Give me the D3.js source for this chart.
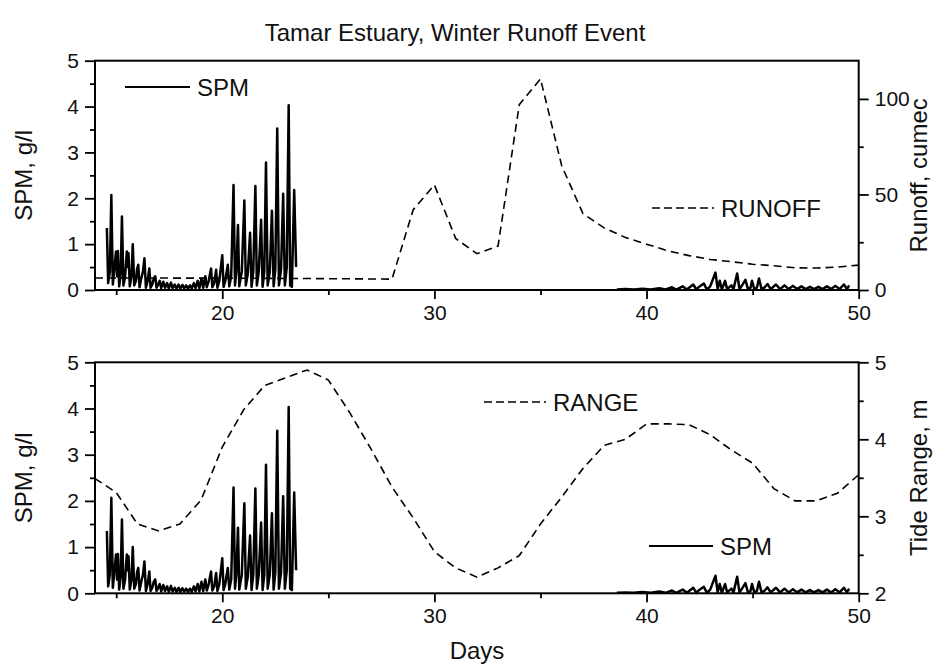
<!DOCTYPE html>
<html>
<head>
<meta charset="utf-8">
<script src="https://cdn.jsdelivr.net/npm/d3@7/dist/d3.min.js"></script>
<style>
  body { margin: 0; background: #fff; }
  svg { font-family: "Liberation Sans", Arial, sans-serif; }
</style>
</head>
<body>
<div id="chart"></div>
<script>
// ---- data ----
const runoffDays = [14, 20, 24, 28, 29, 30, 31, 32, 33, 34, 35, 36, 37, 38, 39, 40, 41, 42, 43, 44, 45, 46, 47, 48, 49, 50];
const runoff = [6.3, 6.2, 6, 5.7, 42, 55, 27, 19, 23, 97, 110.5, 65, 40, 32.5, 27.5, 24, 20.5, 18, 16, 14.8, 13.5, 12.7, 11.6, 11.5, 12, 13];

const rangeDays = [14, 15, 16, 17, 18, 19, 20, 21, 22, 23, 24, 25, 26, 27, 28, 29, 30, 31, 32, 33, 34, 35, 36, 37, 38, 39, 40, 41, 42, 43, 44, 45, 46, 47, 48, 49, 50];
const tideRange = [3.49, 3.31, 2.9, 2.81, 2.9, 3.21, 3.9, 4.38, 4.7, 4.8, 4.9, 4.77, 4.35, 3.88, 3.38, 2.98, 2.54, 2.33, 2.21, 2.33, 2.49, 2.9, 3.25, 3.62, 3.92, 4.0, 4.2, 4.2, 4.19, 4.06, 3.86, 3.69, 3.36, 3.2, 3.2, 3.3, 3.54];

// SPM, first deployment (day, g/l)
const spmEarly = [
  [14.56, 1.35], [14.62, 0.15], [14.70, 0.4], [14.77, 2.07], [14.84, 0.12], [14.92, 0.5], [14.99, 0.84],
  [15.04, 0.3], [15.08, 0.85], [15.14, 0.08], [15.21, 0.35], [15.27, 1.6], [15.34, 0.1], [15.42, 0.3],
  [15.50, 0.84], [15.54, 0.5], [15.58, 0.8], [15.64, 0.08], [15.72, 0.3], [15.78, 1.0], [15.85, 0.1],
  [15.93, 0.2], [15.98, 0.45], [16.04, 0.55], [16.10, 0.06], [16.18, 0.25], [16.26, 0.4], [16.33, 0.69],
  [16.40, 0.05], [16.48, 0.2], [16.56, 0.47], [16.62, 0.05], [16.70, 0.12], [16.77, 0.25], [16.84, 0.3],
  [16.90, 0.05], [16.98, 0.12], [17.05, 0.2], [17.12, 0.04], [17.22, 0.18], [17.30, 0.05], [17.40, 0.15],
  [17.48, 0.03], [17.58, 0.16], [17.66, 0.04], [17.76, 0.12], [17.84, 0.03], [17.94, 0.12], [18.02, 0.03],
  [18.12, 0.11], [18.20, 0.04], [18.30, 0.1], [18.38, 0.03], [18.48, 0.1], [18.56, 0.03], [18.66, 0.15],
  [18.74, 0.04], [18.84, 0.2], [18.92, 0.04], [19.02, 0.25], [19.10, 0.05], [19.20, 0.3], [19.27, 0.06],
  [19.36, 0.2], [19.47, 0.47], [19.53, 0.06], [19.62, 0.15], [19.71, 0.44], [19.77, 0.05], [19.86, 0.2],
  [20.00, 0.76], [20.06, 0.07], [20.14, 0.2], [20.26, 0.55], [20.33, 0.08], [20.42, 0.3], [20.53, 2.29],
  [20.60, 0.1], [20.66, 0.4], [20.74, 1.42], [20.80, 0.08], [20.92, 0.4], [21.04, 1.95], [21.11, 0.1],
  [21.20, 0.35], [21.31, 1.25], [21.38, 0.07], [21.46, 0.4], [21.56, 2.27], [21.63, 0.1], [21.72, 0.4],
  [21.83, 1.53], [21.90, 0.07], [21.98, 0.4], [22.06, 2.78], [22.14, 0.1], [22.24, 0.4], [22.34, 1.73],
  [22.42, 0.08], [22.50, 0.45], [22.59, 3.52], [22.67, 0.1], [22.77, 0.45], [22.87, 2.1], [22.95, 0.1],
  [23.04, 0.5], [23.13, 4.03], [23.20, 0.1], [23.28, 0.07], [23.39, 2.18], [23.48, 0.5]
];

// SPM, second deployment (day, g/l)
const spmLate = [
  [38.6, 0.01], [39.0, 0.02], [39.4, 0.01], [39.8, 0.03], [40.2, 0.01], [40.6, 0.04], [40.9, 0.01],
  [41.2, 0.06], [41.4, 0.01], [41.7, 0.08], [41.9, 0.01], [42.2, 0.12], [42.35, 0.01], [42.45, 0.06],
  [42.7, 0.14], [42.85, 0.01], [43.0, 0.08], [43.25, 0.38], [43.35, 0.02], [43.45, 0.2], [43.55, 0.01],
  [43.7, 0.2], [43.8, 0.02], [44.0, 0.1], [44.1, 0.02], [44.27, 0.36], [44.38, 0.02], [44.5, 0.1],
  [44.66, 0.22], [44.78, 0.02], [44.9, 0.05], [44.97, 0.2], [45.08, 0.02], [45.2, 0.05], [45.3, 0.25],
  [45.42, 0.02], [45.55, 0.05], [45.7, 0.13], [45.85, 0.02], [46.1, 0.12], [46.3, 0.02], [46.5, 0.1],
  [46.7, 0.02], [46.9, 0.09], [47.1, 0.02], [47.3, 0.08], [47.5, 0.02], [47.7, 0.07], [47.9, 0.02],
  [48.1, 0.07], [48.3, 0.02], [48.5, 0.08], [48.7, 0.02], [48.9, 0.09], [49.1, 0.02], [49.3, 0.12],
  [49.45, 0.02], [49.55, 0.1]
];

const xMajor = [20, 30, 40, 50];
const xMinor = [15, 25, 35, 45];
const spmMajor = [0, 1, 2, 3, 4, 5];
const spmMinor = [0.5, 1.5, 2.5, 3.5, 4.5];
const runoffMajor = [0, 50, 100];
const runoffMinor = [25, 75];
const rangeMajor = [2, 3, 4, 5];
const rangeMinor = [2.5, 3.5, 4.5];

// ---- layout ----
const width = 940, height = 669;
const left = 95, right = 858.7;
const panels = [
  { top: 60.7, bottom: 290 },
  { top: 362.3, bottom: 593.3 }
];

const svg = d3.select("#chart").append("svg")
  .attr("width", width)
  .attr("height", height);

const x = d3.scaleLinear().domain([14, 50]).range([left, right]);

function styleAxis(g, fontSize) {
  g.select(".domain").remove();
  g.selectAll(".tick line").attr("stroke", "#000").attr("stroke-width", 1.8);
  g.selectAll(".tick text").attr("fill", "#111").style("font-size", fontSize + "px");
}

function drawPanel(p, yR, rMajor, rMinor, rightTitle) {
  const yL = d3.scaleLinear().domain([0, 5]).range([p.bottom, p.top]);
  const g = svg.append("g");

  // x axis
  g.append("g").attr("transform", `translate(0,${p.bottom})`)
    .call(d3.axisBottom(x).tickValues(xMajor).tickSize(9).tickSizeOuter(0).tickPadding(6).tickFormat(d3.format("d")))
    .call(a => styleAxis(a, 21));
  g.append("g").attr("transform", `translate(0,${p.bottom})`)
    .call(d3.axisBottom(x).tickValues(xMinor).tickSize(5).tickSizeOuter(0).tickFormat(""))
    .call(a => styleAxis(a, 21));

  // left axis
  g.append("g").attr("transform", `translate(${left},0)`)
    .call(d3.axisLeft(yL).tickValues(spmMajor).tickSize(10).tickSizeOuter(0).tickPadding(6).tickFormat(d3.format("d")))
    .call(a => styleAxis(a, 21));
  g.append("g").attr("transform", `translate(${left},0)`)
    .call(d3.axisLeft(yL).tickValues(spmMinor).tickSize(5).tickSizeOuter(0).tickFormat(""))
    .call(a => styleAxis(a, 21));

  // right axis
  g.append("g").attr("transform", `translate(${right},0)`)
    .call(d3.axisRight(yR).tickValues(rMajor).tickSize(10).tickSizeOuter(0).tickPadding(6).tickFormat(d3.format("d")))
    .call(a => styleAxis(a, 21));
  g.append("g").attr("transform", `translate(${right},0)`)
    .call(d3.axisRight(yR).tickValues(rMinor).tickSize(5).tickSizeOuter(0).tickFormat(""))
    .call(a => styleAxis(a, 21));

  // frame
  g.append("rect")
    .attr("x", left).attr("y", p.top)
    .attr("width", right - left).attr("height", p.bottom - p.top)
    .attr("fill", "none").attr("stroke", "#000").attr("stroke-width", 2);

  // axis titles
  g.append("text")
    .attr("transform", `translate(32,${(p.top + p.bottom) / 2}) rotate(-90)`)
    .attr("text-anchor", "middle")
    .style("font-size", "24px")
    .attr("fill", "#111")
    .text("SPM, g/l");
  g.append("text")
    .attr("transform", `translate(927,${(p.top + p.bottom) / 2}) rotate(-90)`)
    .attr("text-anchor", "middle")
    .style("font-size", "24px")
    .attr("fill", "#111")
    .text(rightTitle);

  return yL;
}

// top panel: SPM + runoff
const yRunoff = d3.scaleLinear().domain([0, 120]).range([panels[0].bottom, panels[0].top]);
const ySpmTop = drawPanel(panels[0], yRunoff, runoffMajor, runoffMinor, "Runoff, cumec");

// bottom panel: SPM + tide range
const yRange = d3.scaleLinear().domain([2, 5]).range([panels[1].bottom, panels[1].top]);
const ySpmBot = drawPanel(panels[1], yRange, rangeMajor, rangeMinor, "Tide Range, m");

function drawSpm(yS) {
  const spmLine = d3.line().x(d => x(d[0])).y(d => yS(d[1]));
  [spmEarly, spmLate].forEach(seg => {
    svg.append("path")
      .datum(seg)
      .attr("fill", "none")
      .attr("stroke", "#000")
      .attr("stroke-width", 2.5)
      .attr("stroke-linejoin", "round")
      .attr("d", spmLine);
  });
}

function drawDashed(days, vals, yS) {
  const dl = d3.line().x((d, i) => x(days[i])).y(d => yS(d));
  svg.append("path")
    .datum(vals)
    .attr("fill", "none")
    .attr("stroke", "#000")
    .attr("stroke-width", 1.6)
    .attr("stroke-dasharray", "8,5")
    .attr("d", dl);
}

drawDashed(runoffDays, runoff, yRunoff);
drawSpm(ySpmTop);
drawDashed(rangeDays, tideRange, yRange);
drawSpm(ySpmBot);

// legends
function legend(x1, x2, y, label, dashed) {
  svg.append("line")
    .attr("x1", x1).attr("x2", x2).attr("y1", y).attr("y2", y)
    .attr("stroke", "#000")
    .attr("stroke-width", dashed ? 1.6 : 2)
    .attr("stroke-dasharray", dashed ? "8,4" : null);
  svg.append("text")
    .attr("x", x2 + 7).attr("y", y + 9)
    .style("font-size", "24px")
    .attr("fill", "#111")
    .text(label);
}
legend(125, 190, 87, "SPM", false);
legend(652, 714, 208, "RUNOFF", true);
legend(484, 546, 402, "RANGE", true);
legend(649, 713, 546, "SPM", false);

// title and x label
svg.append("text")
  .attr("x", 455).attr("y", 41)
  .attr("text-anchor", "middle")
  .style("font-size", "24px")
  .attr("fill", "#111")
  .text("Tamar Estuary, Winter Runoff Event");

svg.append("text")
  .attr("x", 477).attr("y", 659)
  .attr("text-anchor", "middle")
  .style("font-size", "24px")
  .attr("fill", "#111")
  .text("Days");
</script>
</body>
</html>
